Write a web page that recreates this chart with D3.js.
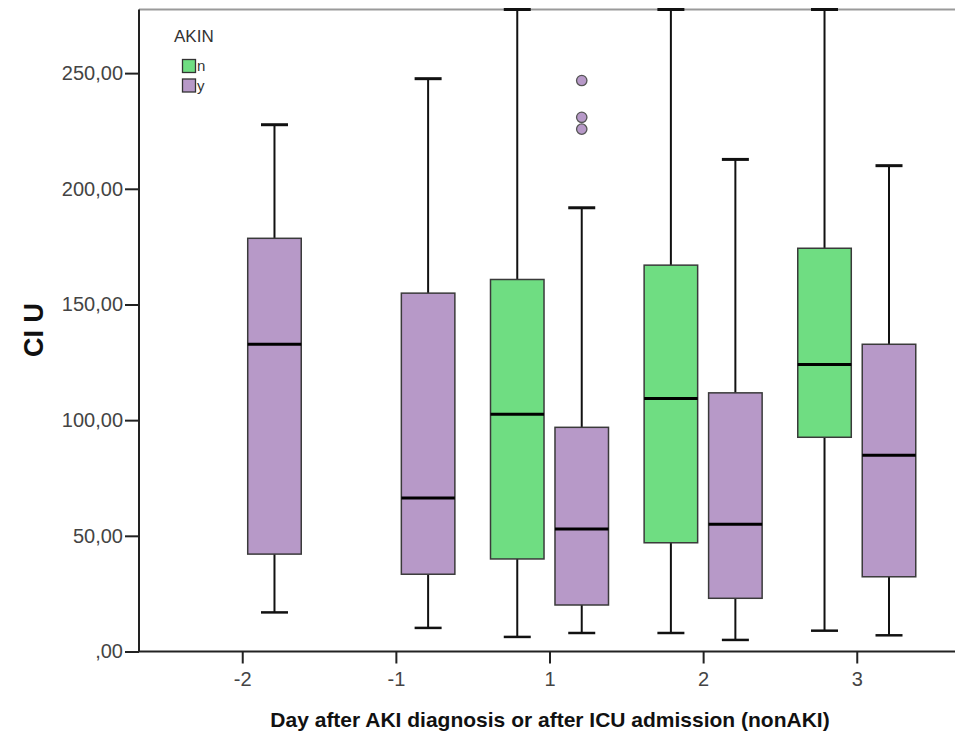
<!DOCTYPE html>
<html>
<head>
<meta charset="utf-8">
<script src="https://cdn.jsdelivr.net/npm/d3@7"></script>
<style>
  html, body { margin: 0; padding: 0; background: #fff; }
  svg { display: block; font-family: "Liberation Sans", Arial, sans-serif; }
</style>
</head>
<body>
<svg id="chart" width="955" height="736"></svg>
<script>
// ---- data ----
const days = ["-2", "-1", "1", "2", "3"];
const groups = ["n", "y"];
const groupColors = ["#6fdd82", "#b799c8"];
const yTicks = [0, 50, 100, 150, 200, 250];

// AKIN = n (green); null where no box
const nMin = [null, null, 6.3, 8.0, 9.0];
const nQ1  = [null, null, 40.0, 47.0, 92.6];
const nMed = [null, null, 102.5, 109.4, 124.0];
const nQ3  = [null, null, 160.8, 167.0, 174.3];
const nMax = [null, null, 277.5, 277.5, 277.5];

// AKIN = y (purple)
const yMin = [16.9, 10.2, 8.0, 5.0, 7.0];
const yQ1  = [42.1, 33.4, 20.1, 23.0, 32.3];
const yMed = [132.8, 66.3, 52.9, 55.0, 84.8];
const yQ3  = [178.6, 154.9, 96.9, 111.8, 132.8];
const yMax = [227.7, 247.6, 191.8, 212.7, 210.0];

// outliers (day, group, value)
const outlierDay = ["1", "1", "1"];
const outlierGroup = ["y", "y", "y"];
const outlierValue = [246.8, 230.9, 225.8];

const yDomainMax = 277.5;

// ---- build table ----
const boxes = [];
days.forEach((d, i) => {
  if (nMed[i] != null) boxes.push({day: d, group: "n", min: nMin[i], q1: nQ1[i], med: nMed[i], q3: nQ3[i], max: nMax[i]});
  if (yMed[i] != null) boxes.push({day: d, group: "y", min: yMin[i], q1: yQ1[i], med: yMed[i], q3: yQ3[i], max: yMax[i]});
});
const outliers = outlierValue.map((v, i) => ({day: outlierDay[i], group: outlierGroup[i], value: v}));

// ---- layout ----
const svg = d3.select("#chart");
const pL = 139, pR = 960, pT = 9.5, pB = 651.5;

const x = d3.scalePoint().domain(days).range([pL, pR]).padding(0.672);
const xg = d3.scaleBand().domain(groups).range([-59, 59]).paddingInner(0.17);
const y = d3.scaleLinear().domain([0, yDomainMax]).range([pB, pT]);
const color = d3.scaleOrdinal().domain(groups).range(groupColors);

const bw = xg.bandwidth();
const capW = 27;

// top border
svg.append("line").attr("x1", pL).attr("x2", pR).attr("y1", pT).attr("y2", pT)
  .attr("stroke", "#9a9a9a").attr("stroke-width", 2);

const g = svg.append("g");
const bx = b => x(b.day) + xg(b.group);
const cx = b => bx(b) + bw / 2;

// whiskers
g.selectAll(".wh-up").data(boxes).join("line")
  .attr("x1", cx).attr("x2", cx).attr("y1", b => y(b.q3)).attr("y2", b => y(b.max))
  .attr("stroke", "#111").attr("stroke-width", 2);
g.selectAll(".wh-dn").data(boxes).join("line")
  .attr("x1", cx).attr("x2", cx).attr("y1", b => y(b.q1)).attr("y2", b => y(b.min))
  .attr("stroke", "#111").attr("stroke-width", 2);
g.selectAll(".cap-up").data(boxes).join("line")
  .attr("x1", b => cx(b) - capW / 2).attr("x2", b => cx(b) + capW / 2)
  .attr("y1", b => y(b.max)).attr("y2", b => y(b.max))
  .attr("stroke", "#111").attr("stroke-width", 3);
g.selectAll(".cap-dn").data(boxes).join("line")
  .attr("x1", b => cx(b) - capW / 2).attr("x2", b => cx(b) + capW / 2)
  .attr("y1", b => y(b.min)).attr("y2", b => y(b.min))
  .attr("stroke", "#111").attr("stroke-width", 2.5);

// boxes
g.selectAll(".box").data(boxes).join("rect")
  .attr("x", bx).attr("width", bw)
  .attr("y", b => y(b.q3)).attr("height", b => y(b.q1) - y(b.q3))
  .attr("fill", b => color(b.group)).attr("stroke", "#3a3a3a").attr("stroke-width", 1.5);

// medians
g.selectAll(".med").data(boxes).join("line")
  .attr("x1", bx).attr("x2", b => bx(b) + bw)
  .attr("y1", b => y(b.med)).attr("y2", b => y(b.med))
  .attr("stroke", "#000").attr("stroke-width", 3);

// outliers
g.selectAll(".out").data(outliers).join("circle")
  .attr("cx", o => x(o.day) + xg(o.group) + bw / 2).attr("cy", o => y(o.value))
  .attr("r", 5.2).attr("fill", o => color(o.group)).attr("stroke", "#555").attr("stroke-width", 1.3);

// axes
const fmt = v => v === 0 ? ",00" : d3.format(".2f")(v).replace(".", ",");
const yAxis = svg.append("g").attr("transform", `translate(${pL},0)`)
  .call(d3.axisLeft(y).tickValues(yTicks).tickFormat(fmt).tickSize(14).tickPadding(2));
const xAxis = svg.append("g").attr("transform", `translate(0,${pB})`)
  .call(d3.axisBottom(x).tickSize(12).tickPadding(8));
[yAxis, xAxis].forEach(a => {
  a.select(".domain").attr("stroke", "#222").attr("stroke-width", 2);
  a.selectAll(".tick line").attr("stroke", "#222").attr("stroke-width", 2);
  a.selectAll(".tick text").attr("fill", "#444").attr("font-size", 20)
    .attr("font-family", "'Liberation Sans', Arial, sans-serif");
});
yAxis.select(".domain").attr("d", `M0,${pB}V${pT}`);
xAxis.select(".domain").attr("d", `M${pL},0H${pR}`);

// axis titles
svg.append("text").attr("x", 550).attr("y", 727).attr("text-anchor", "middle")
  .attr("font-size", 21).attr("font-weight", "bold").attr("fill", "#111")
  .text("Day after AKI diagnosis or after ICU admission (nonAKI)");
svg.append("text").attr("transform", "translate(43,330) rotate(-90)").attr("text-anchor", "middle")
  .attr("font-size", 27).attr("font-weight", "bold").attr("fill", "#111")
  .text("CI U");

// legend
const lg = svg.append("g");
lg.append("text").attr("x", 174).attr("y", 42).attr("font-size", 17).attr("fill", "#333").text("AKIN");
groups.forEach((gr, i) => {
  lg.append("rect").attr("x", 182.5).attr("y", 59.5 + i * 19.5).attr("width", 13).attr("height", 13)
    .attr("fill", color(gr)).attr("stroke", "#333").attr("stroke-width", 1.3);
  lg.append("text").attr("x", 197).attr("y", 71 + i * 19.5).attr("font-size", 15).attr("fill", "#333").text(gr);
});
</script>
</body>
</html>
